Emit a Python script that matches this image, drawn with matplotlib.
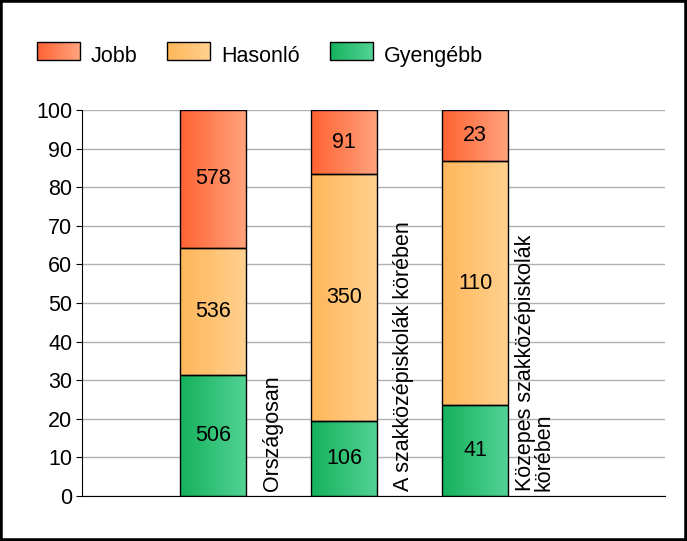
import numpy as np
import matplotlib.pyplot as plt
from matplotlib.colors import LinearSegmentedColormap, to_rgb
from matplotlib.patches import Rectangle, Patch
from matplotlib.legend_handler import HandlerBase

# kategóriák és darabszámok
categories = ['Országosan', 'A szakközépiskolák körében', 'Közepes szakközépiskolák\nkörében']
gyengebb = [506, 106, 41]
hasonlo = [536, 350, 110]
jobb = [578, 91, 23]

series = [('Gyengébb', gyengebb, '#15b25c', '#52d294'),
          ('Hasonló', hasonlo, '#ffb75a', '#ffd08e'),
          ('Jobb', jobb, '#ff6333', '#ffa27c')]

totals = np.array(gyengebb) + np.array(hasonlo) + np.array(jobb)

plt.rcParams['font.family'] = ['Liberation Sans', 'DejaVu Sans']
fs = 15.5


class GradHandler(HandlerBase):
    # színátmenetes jelmagyarázat doboz
    def __init__(self, c0, c1):
        super().__init__()
        self.c0, self.c1 = np.array(to_rgb(c0)), np.array(to_rgb(c1))

    def create_artists(self, legend, orig, xd, yd, width, height, fontsize, trans):
        arts = []
        n = 24
        for i in range(n):
            t = i / (n - 1)
            col = self.c0 * (1 - t) + self.c1 * t
            arts.append(Rectangle((xd + width * i / n, yd), width / n + 0.3, height,
                                  facecolor=col, edgecolor='none', transform=trans))
        arts.append(Rectangle((xd, yd), width, height, facecolor='none',
                              edgecolor='black', linewidth=1, transform=trans))
        return arts


fig = plt.figure(figsize=(6.87, 5.41), dpi=100)
ax = fig.add_axes([82/687, 1-496/541, (665-82)/687, 386/541])

x = np.arange(len(categories))
w = 0.5
grad = np.linspace(0, 1, 64).reshape(1, -1)
bottom = np.zeros(len(categories))
for name, vals, c0, c1 in series:
    pct = np.array(vals) / totals * 100
    cmap = LinearSegmentedColormap.from_list(name, [c0, c1])
    bars = ax.bar(x, pct, w, bottom=bottom, facecolor='none', edgecolor='black', linewidth=1, zorder=3)
    for b, v in zip(bars, vals):
        x0, y0 = b.get_x(), b.get_y()
        im = ax.imshow(grad, extent=[x0, x0 + w, y0, y0 + b.get_height()], aspect='auto', cmap=cmap, zorder=2)
        im.set_clip_path(b)
        ax.text(x0 + w/2, y0 + b.get_height()/2, str(v), ha='center', va='center', fontsize=fs, zorder=4)
    bottom += pct

# kategória feliratok az oszlopok mellett
for xi, cat in zip(x, categories):
    ax.text(xi + w/2 + 0.205, 1.3, cat, rotation=90, ha='center', va='bottom', fontsize=fs,
            multialignment='left', linespacing=0.85)

ax.set_xlim(-1.0, 3.45)
ax.set_ylim(0, 100)
ax.set_yticks(range(0, 101, 10))
ax.tick_params(axis='y', labelsize=fs, length=4, direction='out', pad=3)
ax.set_xticks([])
ax.yaxis.grid(True, color='#b0b0b0', linewidth=1)
ax.set_axisbelow(True)
for s in ['top', 'right']:
    ax.spines[s].set_visible(False)

leg_cols = {'Jobb': ('#ff6333', '#ffa27c'), 'Hasonló': ('#ffb75a', '#ffd08e'),
            'Gyengébb': ('#15b25c', '#52d294')}
handles = [Patch(label=k) for k in leg_cols]
fig.legend(handles=handles, loc='center left', bbox_to_anchor=(0.025, 0.896), ncol=3,
           frameon=False, fontsize=fs, handlelength=2.0, handleheight=0.93, columnspacing=1.4,
           handletextpad=0.5,
           handler_map={h: GradHandler(*leg_cols[h.get_label()]) for h in handles})

fig.add_artist(Rectangle((0, 0), 1, 1, transform=fig.transFigure, fill=False,
                         edgecolor='black', linewidth=4))

fig.savefig('out.png', dpi=100)
